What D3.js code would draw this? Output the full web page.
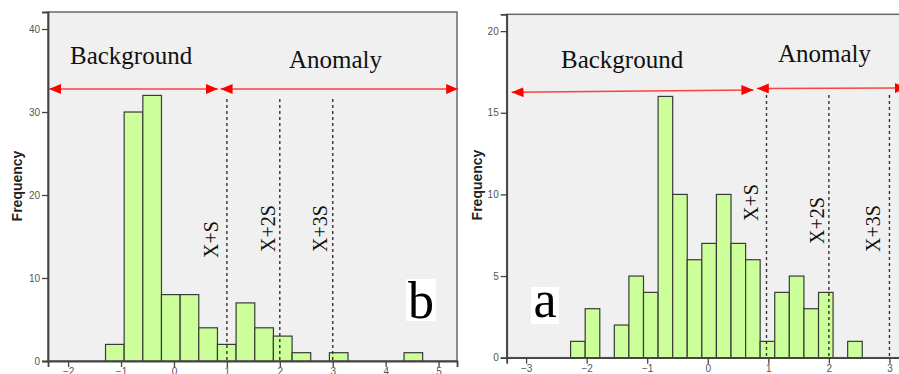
<!DOCTYPE html>
<html>
<head>
<meta charset="utf-8">
<script src="https://cdn.jsdelivr.net/npm/d3@7"></script>
<style>
  html, body { margin: 0; padding: 0; background: #fff; }
  svg { display: block; }
</style>
</head>
<body>
<svg id="chart" width="899" height="374"></svg>
<script>
// Panel b: histogram bin edges and frequencies
const edgesB = [-1.293, -0.941, -0.588, -0.236, 0.117, 0.469, 0.822, 1.174, 1.527,
                1.879, 2.232, 2.584, 2.937, 3.289, 3.642, 3.994, 4.347, 4.699];
const countsB = [2, 30, 32, 8, 8, 4, 2, 7, 4, 3, 1, 0, 1, 0, 0, 0, 1];
const xTicksB = [-2, -1, 0, 1, 2, 3, 4, 5];
const yTicksB = [0, 10, 20, 30, 40];
const thresholdsB = [1.0, 2.0, 3.0];

// Panel a: histogram bin edges and frequencies
const edgesA = [-2.265, -2.024, -1.783, -1.543, -1.302, -1.061, -0.820, -0.579, -0.339,
                -0.098, 0.143, 0.384, 0.625, 0.865, 1.106, 1.347, 1.588, 1.829, 2.069,
                2.310, 2.551];
const countsA = [1, 3, 0, 2, 5, 4, 16, 10, 6, 7, 10, 7, 6, 1, 4, 5, 3, 4, 0, 1];
const xTicksA = [-3, -2, -1, 0, 1, 2, 3];
const yTicksA = [0, 5, 10, 15, 20];
const thresholdsA = [0.97, 2.0, 3.0];

const thresholdLabels = ["X+S", "X+2S", "X+3S"];
const zoneLabels = ["Background", "Anomaly"];

const svg = d3.select("#chart");

// one arrowhead, reversed automatically at the line start
svg.append("defs").append("marker")
  .attr("id", "head")
  .attr("viewBox", "0 0 12 10")
  .attr("refX", 12)
  .attr("refY", 5)
  .attr("markerWidth", 12)
  .attr("markerHeight", 10)
  .attr("markerUnits", "userSpaceOnUse")
  .attr("orient", "auto-start-reverse")
  .append("path")
  .attr("d", "M0,0 L12,5 L0,10 Z")
  .attr("fill", "#ff0000");

function drawPanel(p) {
  const g = svg.append("g");
  const x = d3.scaleLinear().domain(p.xDomain).range(p.xRange);
  const y = d3.scaleLinear().domain(p.yDomain).range(p.yRange);

  // plot frame
  g.append("rect")
    .attr("x", p.xRange[0]).attr("y", p.yRange[1])
    .attr("width", p.xRange[1] - p.xRange[0])
    .attr("height", p.yRange[0] - p.yRange[1])
    .attr("fill", "#f0f0f0")
    .attr("stroke", "#6a6a6a")
    .attr("stroke-width", 1.5);

  // bars
  const bins = p.counts.map((c, i) => ({ x0: p.edges[i], x1: p.edges[i + 1], c }))
    .filter(d => d.c > 0);
  g.selectAll("rect.bar").data(bins).join("rect")
    .attr("class", "bar")
    .attr("x", d => x(d.x0))
    .attr("y", d => y(d.c))
    .attr("width", d => x(d.x1) - x(d.x0))
    .attr("height", d => y(0) - y(d.c))
    .attr("fill", "#ccff99")
    .attr("stroke", "#3a3a3a")
    .attr("stroke-width", 1.2);

  // axes
  const yAxis = g.append("g")
    .attr("transform", `translate(${p.xRange[0]},0)`)
    .call(d3.axisLeft(y).tickValues(p.yTicks).tickSize(6).tickPadding(2).tickFormat(d3.format("d")));
  const xAxis = g.append("g")
    .attr("transform", `translate(0,${p.yRange[0]})`)
    .call(d3.axisBottom(x).tickValues(p.xTicks).tickSize(6).tickPadding(1).tickFormat(d3.format("d")));
  [yAxis, xAxis].forEach(ax => {
    ax.select(".domain").attr("stroke", "#444").attr("stroke-width", 1.8);
    ax.selectAll(".tick line").attr("stroke", "#444").attr("stroke-width", 1.3);
    ax.selectAll(".tick text")
      .attr("fill", "#555")
      .style("font-family", "'Liberation Sans', Arial, sans-serif")
      .style("font-size", "10px");
  });

  // y-axis title
  g.append("text")
    .attr("transform", `translate(${p.titleX},${p.titleY}) rotate(-90)`)
    .attr("text-anchor", "middle")
    .attr("dominant-baseline", "central")
    .style("font-family", "'Liberation Sans', Arial, sans-serif")
    .style("font-weight", "bold")
    .style("font-size", "14px")
    .attr("fill", "#222")
    .text("Frequency");

  // threshold lines
  g.selectAll("line.thr").data(p.thresholds).join("line")
    .attr("class", "thr")
    .attr("x1", d => x(d)).attr("x2", d => x(d))
    .attr("y1", p.thrTop).attr("y2", y(0))
    .attr("stroke", "#333")
    .attr("stroke-width", 1.4)
    .attr("stroke-dasharray", "3,3");

  // threshold labels
  g.selectAll("text.thr").data(p.thresholds).join("text")
    .attr("class", "thr")
    .attr("transform", (d, i) => `translate(${x(d) + p.thrLabelDx[i]},${p.thrLabelY[i]}) rotate(-90)`)
    .style("font-family", "'Liberation Serif', 'Times New Roman', serif")
    .style("font-size", "20px")
    .attr("fill", "#111")
    .text((d, i) => thresholdLabels[i]);

  // zone arrows
  p.arrows.forEach(a => {
    g.append("line")
      .attr("x1", x(a.from)).attr("y1", a.y1)
      .attr("x2", x(a.to)).attr("y2", a.y2)
      .attr("stroke", "#ff4040")
      .attr("stroke-width", 1.6)
      .attr("marker-start", "url(#head)")
      .attr("marker-end", "url(#head)");
  });

  // zone titles
  p.zoneText.forEach((t, i) => {
    g.append("text")
      .attr("x", t.x).attr("y", t.y)
      .style("font-family", "'Liberation Serif', 'Times New Roman', serif")
      .style("font-size", "25px")
      .attr("fill", "#111")
      .text(zoneLabels[i]);
  });

  // panel letter
  g.append("rect")
    .attr("x", p.letterBox[0]).attr("y", p.letterBox[1])
    .attr("width", p.letterBox[2]).attr("height", p.letterBox[3])
    .attr("fill", "#ffffff");
  g.append("text")
    .attr("x", p.letterBox[0] + p.letterBox[2] / 2)
    .attr("y", p.letterBaseline)
    .attr("text-anchor", "middle")
    .style("font-family", "'Liberation Serif', 'Times New Roman', serif")
    .style("font-size", "52px")
    .attr("fill", "#000")
    .text(p.letter);
}

drawPanel({
  edges: edgesB, counts: countsB, xTicks: xTicksB, yTicks: yTicksB, thresholds: thresholdsB,
  xDomain: [-2.38, 5.348], xRange: [48, 457],
  yDomain: [0, 42.05], yRange: [361, 12],
  titleX: 17, titleY: 186,
  thrTop: 99, thrLabelDx: [-8.5, -5, -6], thrLabelY: [258, 252, 252],
  arrows: [
    { from: -2.36, to: 0.83, y1: 89, y2: 89 },
    { from: 0.88, to: 5.37, y1: 89, y2: 89 }
  ],
  zoneText: [{ x: 70, y: 64 }, { x: 289, y: 68 }],
  letter: "b", letterBox: [406, 279, 30, 42], letterBaseline: 318
});

drawPanel({
  edges: edgesA, counts: countsA, xTicks: xTicksA, yTicks: yTicksA, thresholds: thresholdsA,
  xDomain: [-3.32, 4.0], xRange: [506.7, 950],
  yDomain: [0, 21.03], yRange: [357.7, 14.3],
  titleX: 477, titleY: 185,
  thrTop: 95, thrLabelDx: [-9, -5, -9], thrLabelY: [221, 244, 252],
  arrows: [
    { from: -3.24, to: 0.754, y1: 92.3, y2: 90 },
    { from: 0.81, to: 3.29, y1: 88.5, y2: 88 }
  ],
  zoneText: [{ x: 561, y: 68 }, { x: 778, y: 62 }],
  letter: "a", letterBox: [531, 287, 28, 37], letterBaseline: 317
});
</script>
</body>
</html>
